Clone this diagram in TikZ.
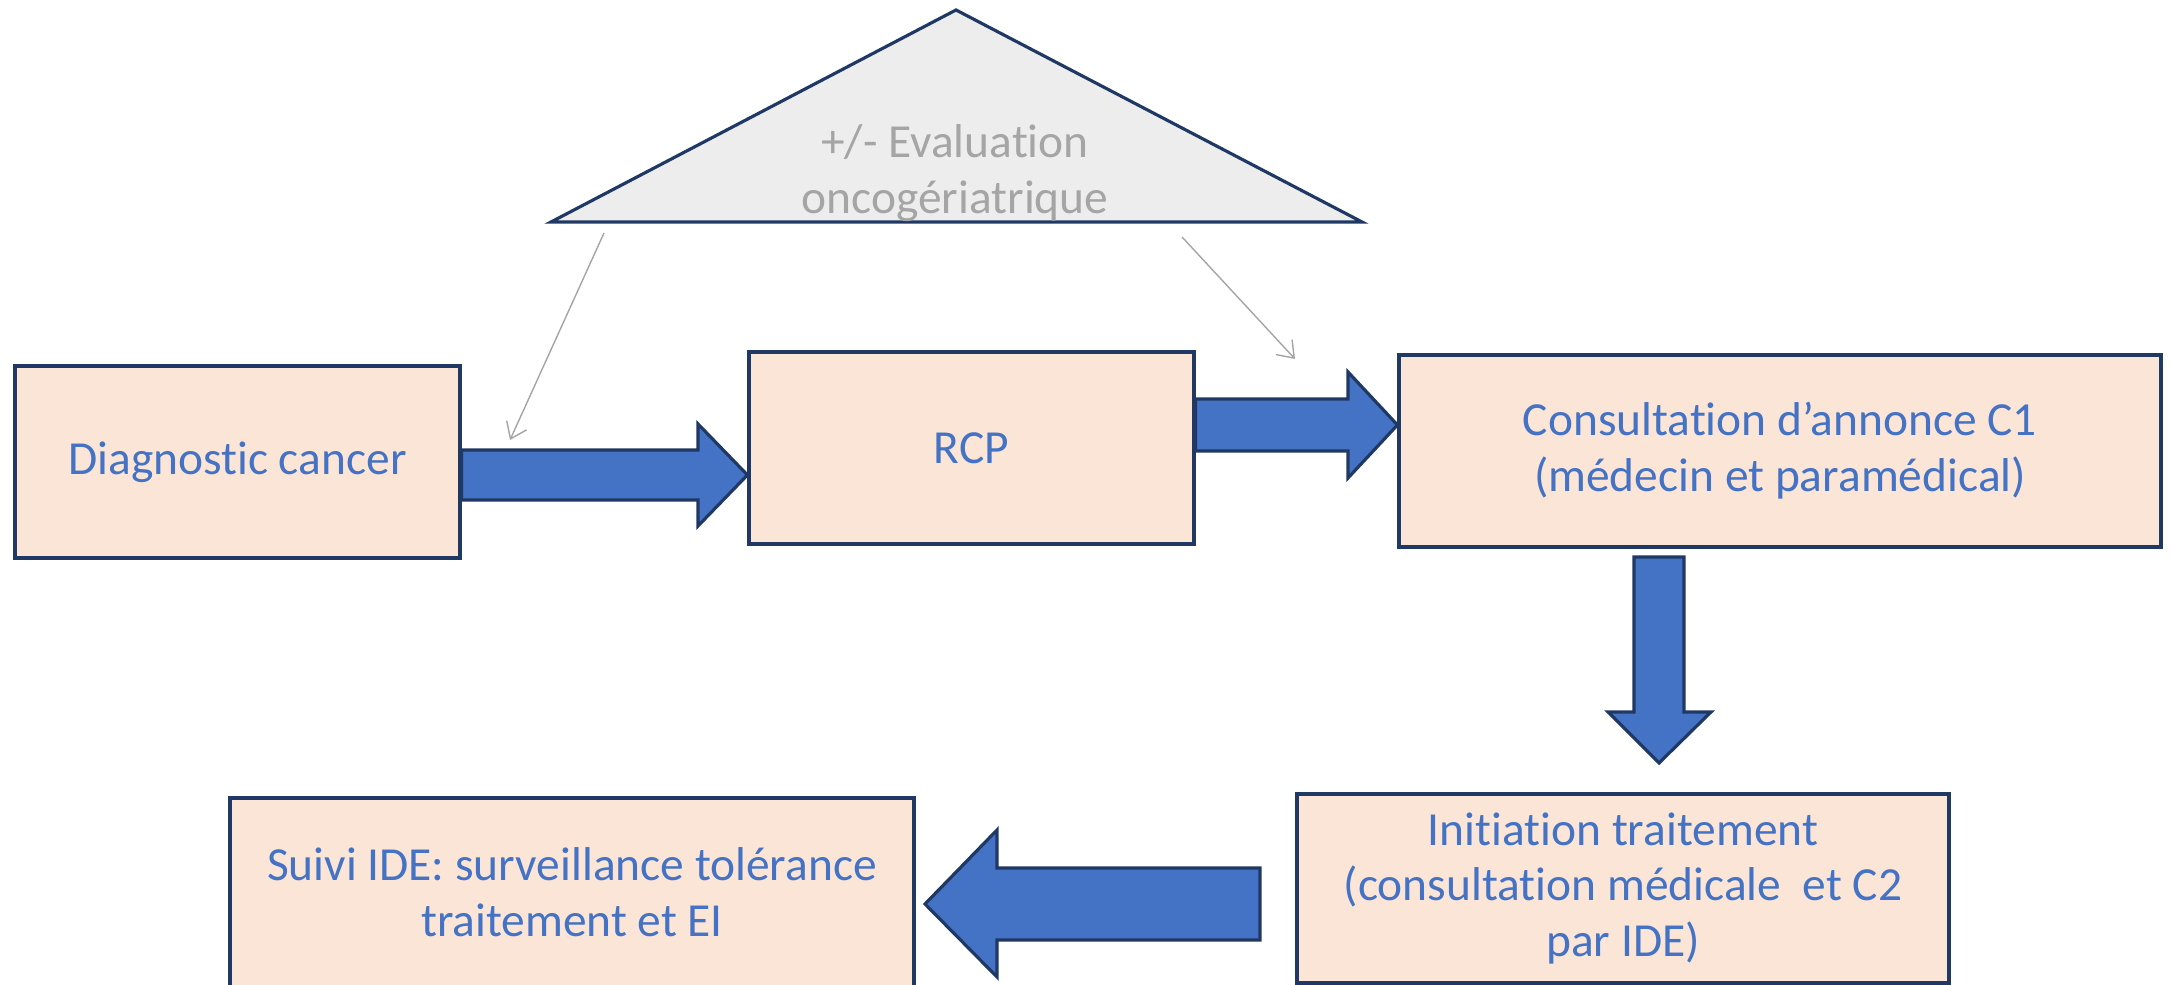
\documentclass[tikz,border=0pt]{standalone}
\usepackage{fontspec}
\setmainfont{Carlito}[Ligatures={NoCommon}]
\usetikzlibrary{arrows.meta}
\definecolor{boxfill}{HTML}{FBE5D6}
\definecolor{navy}{HTML}{1F3864}
\definecolor{txtblue}{HTML}{4472C4}
\definecolor{trifill}{HTML}{EDEDED}
\definecolor{txtgray}{HTML}{A5A5A5}

\begin{document}
\begin{tikzpicture}[
    etape/.style={draw=navy, line width=0.9pt, fill=boxfill, text=txtblue, align=center,
      inner sep=0pt, font=\fontsize{13.5}{15.9}\selectfont},
    bloc/.style={draw=navy, line width=0.9pt, fill=txtblue, line join=miter},
    fine/.style={draw=txtgray, line width=0.4pt, -{Straight Barb[length=1.5mm,width=2.2mm]}}
  ]
      \useasboundingbox (0,0) rectangle (21.72,9.85);
      \draw[navy, line width=0.9pt, fill=trifill] (5.51,7.63) -- (9.56,9.75) -- (13.62,7.63) -- cycle;
      \node[text=txtgray, align=center, font=\fontsize{13.5}{15.9}\selectfont] (evalo) at (9.55,8.12) {+/- Evaluation\\oncogériatrique};
      \node[etape, minimum width=4.45cm, minimum height=1.92cm] (diag) at (2.375,5.23) {Diagnostic cancer};
      \node[etape, minimum width=4.45cm, minimum height=1.92cm] (rcp) at (9.715,5.37) {RCP};
      \node[etape, minimum width=7.62cm, minimum height=1.92cm] (cons) at (17.80,5.34) {Consultation d’annonce C1\\(médecin et paramédical)};
      \node[etape, minimum width=6.52cm, minimum height=1.89cm] (init) at (16.23,0.965) {Initiation traitement\\(consultation médicale~~et C2\\par IDE)};
      \node[etape, minimum width=6.84cm, minimum height=1.89cm] (suivi) at (5.72,0.925) {Suivi IDE: surveillance tolérance\\traitement et EI};
      \draw[bloc] (diag.east |- 0,5.35) -- (6.98,5.35) -- (6.98,5.61) -- (rcp.west |- 0,5.10) -- (6.98,4.59) -- (6.98,4.85) -- (diag.east |- 0,4.85) -- cycle;
      \draw[bloc] (rcp.east |- 0,5.86) -- (13.48,5.86) -- (13.48,6.13) -- (cons.west |- 0,5.60) -- (13.48,5.07) -- (13.48,5.34) -- (rcp.east |- 0,5.34) -- cycle;
      \coordinate (c1bas) at (16.59,4.28);
      \coordinate (c2haut) at (16.59,2.22);
      \draw[bloc] (c1bas) ++(-0.25,0) -- ++(0.5,0) -- (16.84,2.73) -- (17.11,2.73) -- (c2haut) -- (16.08,2.73) -- (16.34,2.73) -- cycle;
      \coordinate (initg) at (12.60,0.81);
      \coordinate (suivid) at (9.25,0.81);
      \draw[bloc] (initg) ++(0,0.36) -- (9.97,1.17) -- (9.97,1.55) -- (suivid) -- (9.97,0.08) -- (9.97,0.45) -- (12.60,0.45) -- cycle;
      \coordinate (evg) at (6.04,7.52);
      \coordinate (evd) at (11.82,7.48);
      \coordinate (pointg) at (5.10,5.45);
      \coordinate (pointd) at (12.95,6.26);
      \draw[fine] (evg) -- (pointg);
      \draw[fine] (evd) -- (pointd);
\end{tikzpicture}
\end{document}
